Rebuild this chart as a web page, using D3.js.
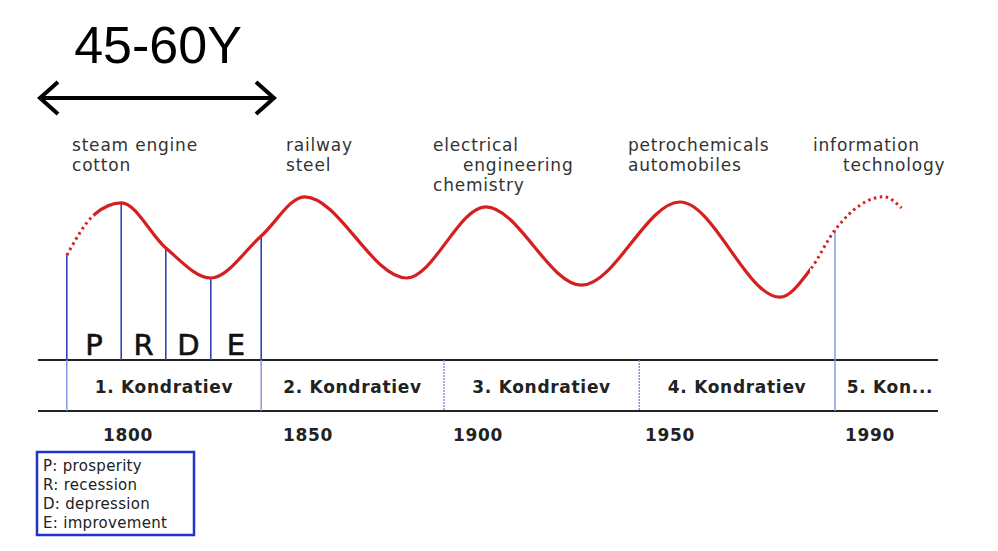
<!DOCTYPE html>
<html><head><meta charset="utf-8">
<script src="https://cdn.jsdelivr.net/npm/d3@7"></script>
<style>body{margin:0;background:#fff}</style></head>
<body><svg id="c" width="998" height="551"></svg>
<script>
const waveYears = [1782,1790,1798,1810.5,1823,1837,1849,1879,1902,1927,1952,1972,1978,1983,1994,1999];
const waveValues= [-0.38,0.63,0.93,-0.2,-0.95,0.1,1.08,-0.95,0.83,-1.13,0.95,-1.43,-0.75,0.25,1.08,0.8];
const phaseYears = [1782,1798,1810.5,1823,1837];
const phaseLabels = ["P","R","D","E"];
const boundaryYears = [1782,1837,1890,1942,1983];
const waveNames = ["1. Kondratiev","2. Kondratiev","3. Kondratiev","4. Kondratiev","5. Kon..."];
const tickYears = [1800,1850,1900,1950,1990];
const techLabels = [["steam engine","cotton"],["railway","steel"],["electrical","engineering","chemistry"],["petrochemicals","automobiles"],["information","technology"]];
const legendItems = ["P: prosperity","R: recession","D: depression","E: improvement"];

const svg = d3.select("#c");
const x = d3.scaleLinear().domain([1780,1800,1850,1900,1950,1990,2000]).range([60,128,308,478,670,870,905]);
const y = d3.scaleLinear().domain([-1,1]).range([280,200]);
const valAt = yr => waveValues[waveYears.indexOf(yr)];

svg.append("text").attr("x",158).attr("y",63).attr("text-anchor","middle")
  .attr("font-family","Liberation Sans, Arial").attr("font-size",52).text("45-60Y");
svg.append("path").attr("d","M40,98H274M58,82L40,98L58,114M256,82L274,98L256,114")
  .attr("fill","none").attr("stroke","#000").attr("stroke-width",4);

const techX = [72,286,433,628,813], techDx=[[0,0],[0,0],[0,30,0],[0,0],[0,30]];
techLabels.forEach((ls,i)=>ls.forEach((t,j)=>svg.append("text").attr("x",techX[i]+techDx[i][j]).attr("y",151+j*20)
  .attr("font-family","DejaVu Sans").attr("font-size",17).attr("letter-spacing",0.8).attr("fill","#333").text(t)));

[360,411].forEach(h=>svg.append("line").attr("x1",38).attr("x2",938).attr("y1",h).attr("y2",h).attr("stroke","#222").attr("stroke-width",2));

phaseYears.forEach(yr=>svg.append("line").attr("x1",x(yr)).attr("x2",x(yr)).attr("y1",y(valAt(yr))).attr("y2",360).attr("stroke","#3344bb").attr("stroke-width",1.6));
[boundaryYears[0],boundaryYears[1]].forEach(yr=>svg.append("line").attr("x1",x(yr)).attr("x2",x(yr)).attr("y1",360).attr("y2",411).attr("stroke","#8090dd").attr("stroke-width",1.4));
boundaryYears.slice(2,4).forEach(yr=>svg.append("line").attr("x1",x(yr)).attr("x2",x(yr)).attr("y1",360).attr("y2",411).attr("stroke","#8090dd").attr("stroke-width",1.4).attr("stroke-dasharray","2,1"));
const lb = boundaryYears[4];
svg.append("line").attr("x1",x(lb)).attr("x2",x(lb)).attr("y1",y(valAt(lb))).attr("y2",411).attr("stroke","#8090dd").attr("stroke-width",1.4);

phaseLabels.forEach((l,i)=>svg.append("text").attr("x",(x(phaseYears[i])+x(phaseYears[i+1]))/2).attr("y",355).attr("text-anchor","middle")
  .attr("font-family","DejaVu Sans").attr("font-size",29).attr("stroke","#111").attr("stroke-width",0.6).attr("fill","#111").text(l));

const pts = waveYears.map((d,i)=>[x(d),y(waveValues[i])]);
const line = d3.line().curve(d3.curveMonotoneX);
svg.append("clipPath").attr("id","solid").append("rect").attr("x",x(1790)).attr("width",x(1978)-x(1790)).attr("y",0).attr("height",551);
svg.append("clipPath").attr("id","dots").selectAll("rect").data([[0,x(1790)],[x(1978),998]]).join("rect")
  .attr("x",d=>d[0]).attr("width",d=>d[1]-d[0]).attr("y",0).attr("height",551);
svg.append("path").attr("d",line(pts)).attr("fill","none").attr("stroke","#d42020").attr("stroke-width",3.2).attr("clip-path","url(#solid)");
svg.append("path").attr("d",line(pts)).attr("fill","none").attr("stroke","#d42020").attr("stroke-width",3).attr("stroke-dasharray","2.5,3.5").attr("clip-path","url(#dots)");

const bx = boundaryYears.map(x).concat([945]);
waveNames.forEach((n,i)=>svg.append("text").attr("x",(bx[i]+bx[i+1])/2).attr("y",393).attr("text-anchor","middle")
  .attr("font-family","DejaVu Sans").attr("font-weight","bold").attr("font-size",17).attr("letter-spacing",0.7).attr("fill","#222").text(n));

tickYears.forEach(t=>svg.append("text").attr("x",x(t)).attr("y",441).attr("text-anchor","middle")
  .attr("font-family","DejaVu Sans").attr("font-weight","bold").attr("font-size",17).attr("letter-spacing",0.7).attr("fill","#222").text(t));

svg.append("rect").attr("x",37).attr("y",452).attr("width",157).attr("height",83).attr("fill","none").attr("stroke","#2233cc").attr("stroke-width",2.5);
legendItems.forEach((t,i)=>svg.append("text").attr("x",43).attr("y",471+i*19).attr("font-family","DejaVu Sans").attr("font-size",15).attr("letter-spacing",0.3).attr("fill","#222").text(t));
</script></body></html>
